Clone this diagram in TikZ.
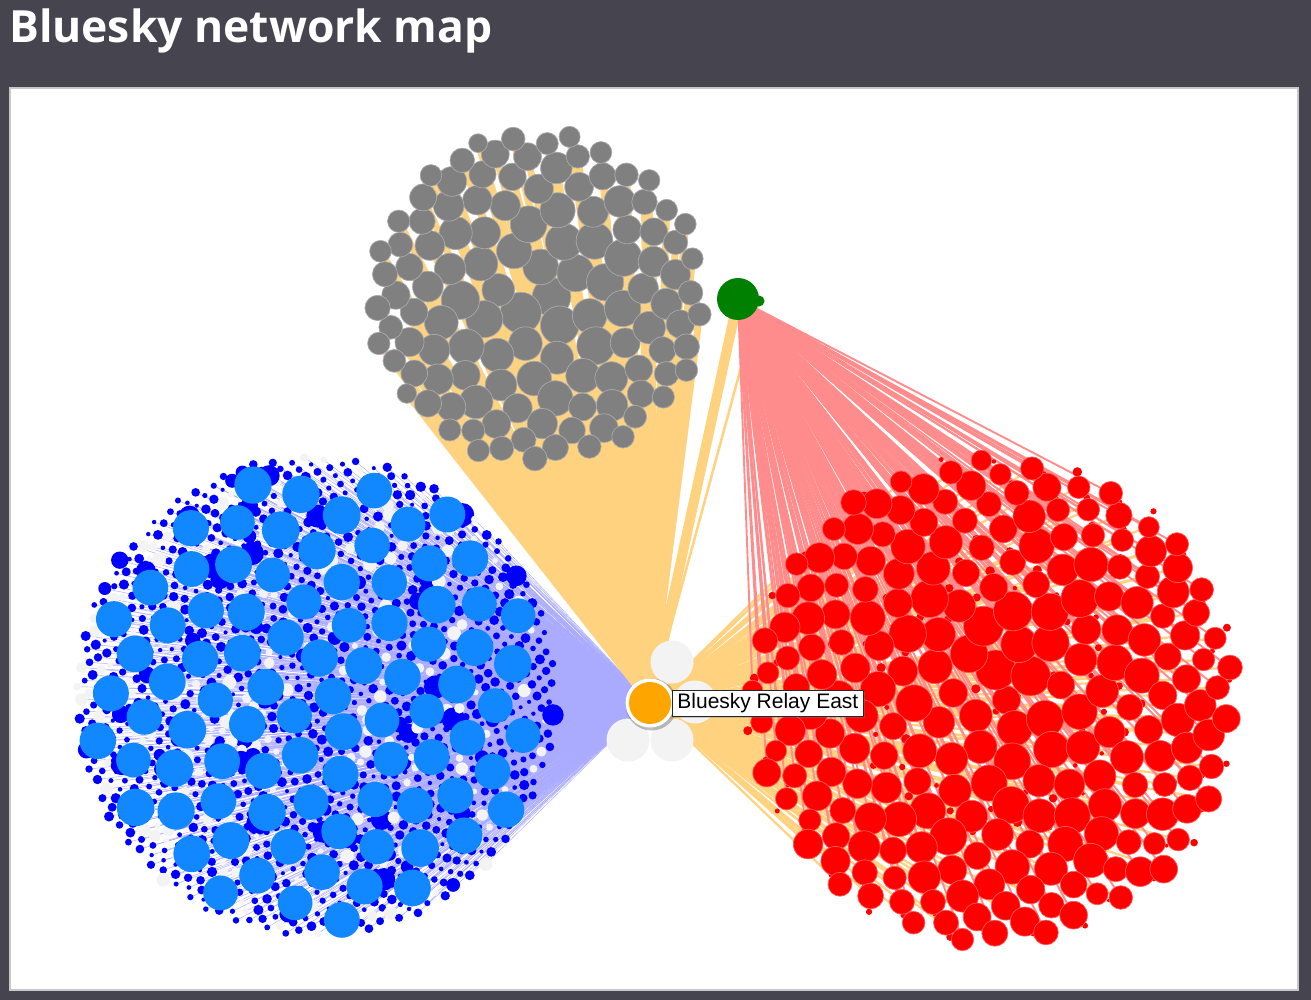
\documentclass[tikz,border=0pt]{standalone}
\usepackage{fontspec}
\setmainfont{Liberation Sans}
\newfontfamily\titlefont{Open Sans}
\usetikzlibrary{shadows}
\definecolor{bgdark}{RGB}{69,68,79}
\definecolor{panelborder}{RGB}{200,200,200}
\definecolor{fanyellow}{RGB}{255,210,128}
\definecolor{lav}{RGB}{170,170,255}
\definecolor{pinkedge}{RGB}{255,140,140}
\definecolor{graynode}{RGB}{128,128,128}
\definecolor{grayrim}{RGB}{170,170,170}
\definecolor{rednode}{RGB}{255,0,0}
\definecolor{redrim}{RGB}{255,90,90}
\definecolor{ltblue}{RGB}{17,136,255}
\definecolor{dkblue}{RGB}{0,0,255}
\definecolor{petal}{RGB}{243,243,243}
\definecolor{greennode}{RGB}{0,128,0}
\definecolor{relayorange}{RGB}{255,165,0}
\tikzset{
  grayfan/.style={draw=fanyellow,line width=7pt},
  redfan/.style={draw=fanyellow,line width=2.2pt},
  greenfan/.style={draw=fanyellow,line width=#1},
  pinkline/.style={draw=pinkedge,line width=1.9pt},
  blueline/.style={draw=lav,line width=0.45pt},
  graycirc/.style={fill=graynode,draw=grayrim,line width=0.7pt},
  redcirc/.style={fill=rednode,draw=redrim,line width=0.7pt},
  petalnode/.style={fill=petal},
  labelbox/.style={draw=black!85,fill=white,line width=0.8pt,inner xsep=5pt,
    inner ysep=0pt,text height=15pt,text depth=4.5pt,minimum height=26pt,
    font=\fontsize{21}{21}\selectfont,
    drop shadow={opacity=0.35,shadow xshift=1.5pt,shadow yshift=-1.5pt}},
}
\begin{document}
\begin{tikzpicture}[x=1pt,y=-1pt]
\useasboundingbox (0,0) rectangle (1311,1000);
\fill[bgdark] (0,0) rectangle (1311,1000);
\fill[white] (10,88) rectangle (1298,990);
\draw[panelborder,line width=1.2pt] (10,88) rectangle (1298,990);
\node[anchor=base west,inner sep=0pt,text=white,
  font=\titlefont\bfseries\fontsize{44.4}{50}\selectfont] (title) at (9,43) {Bluesky network map};

\coordinate (relay) at (650,703);
\coordinate (green) at (738,299);
\coordinate (greenb) at (759,301);

% ---------- positions + blue edges ----------
\foreach \i in {0,...,87}{
  \pgfmathsetmacro\myr{226*sqrt((\i+0.5)/88)}
  \pgfmathsetmacro\myg{\i*0.381966}
  \pgfmathsetmacro\mya{360*(\myg-floor(\myg))}
  \coordinate (b\i) at ({316+\myr*cos(\mya)},{696+\myr*sin(\mya)});
  \draw[blueline] (relay) -- (b\i);
}
\foreach \i in {0,...,1499}{
  \pgfmathsetmacro\myr{240*sqrt((\i+0.5)/1500)}
  \pgfmathsetmacro\myg{\i*0.381966+0.13}
  \pgfmathsetmacro\mya{360*(\myg-floor(\myg))}
  \coordinate (s\i) at ({316+\myr*cos(\mya)},{696+\myr*sin(\mya)});
  \draw[blueline] (relay) -- (s\i);
}

% ---------- yellow edges ----------
\draw[greenfan=10pt] (green) -- (relay);
\draw[greenfan=2.5pt] (greenb) -- (relay);
\foreach \i in {0,...,119}{
  \pgfmathsetmacro\myt{(\i+0.5)/120}
  \pgfmathsetmacro\myF{(420.25*\myt-184.5*\myt*\myt+27*\myt*\myt*\myt)/262.75}
  \pgfmathsetmacro\myr{166*sqrt(\myF)}
  \pgfmathsetmacro\myg{\i*0.381966}
  \pgfmathsetmacro\mya{360*(\myg-floor(\myg))}
  \coordinate (g\i) at ({538+\myr*cos(\mya)},{297+\myr*sin(\mya)});
  \draw[grayfan] (relay) -- (g\i);
}
\foreach \i in {0,...,219}{
  \pgfmathsetmacro\myt{(\i+0.5)/220}
  \pgfmathsetmacro\myF{(400*\myt-120*\myt*\myt+12*\myt*\myt*\myt)/292}
  \pgfmathsetmacro\myr{242*sqrt(\myF)}
  \pgfmathsetmacro\myg{\i*0.381966}
  \pgfmathsetmacro\mya{360*(\myg-floor(\myg))}
  \coordinate (r\i) at ({993+\myr*cos(\mya)},{700+\myr*sin(\mya)});
  \draw[redfan] (relay) -- (r\i);
}
% ---------- pink edges ----------
\foreach \i in {0,...,219}{
  \draw[pinkline] (green) -- (r\i);
}

% ---------- small dots ----------
\pgfmathsetseed{5}
\foreach \i in {0,...,219}{
  \pgfmathsetmacro\myr{248*sqrt((\i+0.5)/220)}
  \pgfmathsetmacro\myg{\i*0.381966+0.21}
  \pgfmathsetmacro\mya{360*(\myg-floor(\myg))}
  \pgfmathsetmacro\mys{1.8+3*rnd}
  \fill[rednode] ({993+\myr*cos(\mya)},{700+\myr*sin(\mya)}) circle[radius=\mys pt];
}
\pgfmathsetseed{77}
\foreach \i in {0,...,1499}{
  \pgfmathsetmacro\mycc{rnd}
  \ifdim\mycc pt<0.17pt
    \def\mycol{petal}\pgfmathsetmacro\mys{2.5+4.5*rnd}
  \else\ifdim\mycc pt<0.21pt
    \def\mycol{dkblue}\pgfmathsetmacro\mys{6+6*rnd}
  \else
    \def\mycol{dkblue}\pgfmathsetmacro\mys{2+3.2*rnd}
  \fi\fi
  \fill[\mycol] (s\i) circle[radius=\mys pt];
}

% ---------- cluster circles ----------
\pgfmathsetseed{11}
\foreach \i in {0,...,119}{
  \pgfmathsetmacro\myt{(\i+0.5)/120}
  \pgfmathsetmacro\mys{(20.5-9*\myt)*(0.8+0.22*rnd)}
  \draw[graycirc] (g\i) circle[radius=\mys pt];
}
\pgfmathsetseed{23}
\foreach \i in {0,...,219}{
  \pgfmathsetmacro\myt{(\i+0.5)/220}
  \pgfmathsetmacro\mys{(20-6*\myt)*(0.7+0.32*rnd)}
  \draw[redcirc] (r\i) circle[radius=\mys pt];
}
\pgfmathsetseed{41}
\foreach \i in {0,...,87}{
  \pgfmathsetmacro\mys{17.3+1.6*rnd}
  \fill[ltblue] (b\i) circle[radius=\mys pt];
}

% ---------- hub nodes ----------
\fill[petalnode] (672,662) circle[radius=21.5pt];
\fill[petalnode] (695,702) circle[radius=21.5pt];
\fill[petalnode] (628,740) circle[radius=21.5pt];
\fill[petalnode] (672,740) circle[radius=21.5pt];
\fill[greennode] (greenb) circle[radius=5.5pt];
\fill[greennode] (green) circle[radius=21pt];
\fill[black,opacity=0.25] (651.5,704.5) circle[radius=26pt];
\fill[white] (relay) circle[radius=24.5pt];
\fill[relayorange] (relay) circle[radius=21pt];
\node[labelbox,anchor=west] (label) at (672,703) {Bluesky Relay East};
\end{tikzpicture}
\end{document}
